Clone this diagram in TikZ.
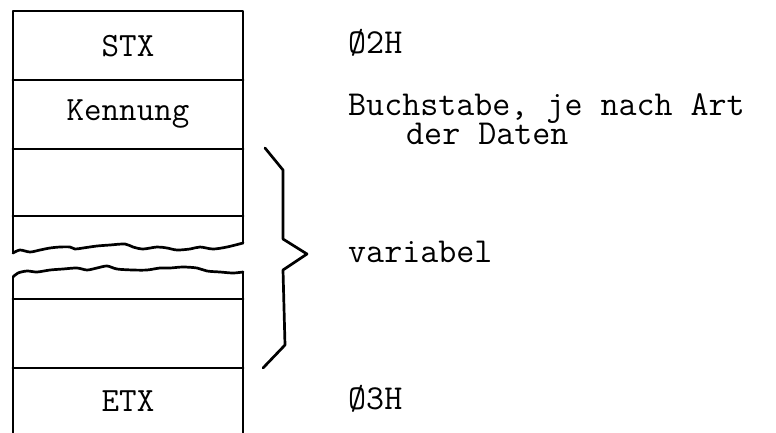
\documentclass[tikz,border=0pt]{standalone}
\usepackage{fontspec}
\begin{document}
\begin{tikzpicture}[x=1pt,y=-1pt,
  edge/.style={line width=2.7pt,line join=round,line cap=round},
  lbl/.style={font=\ttfamily\fontsize{34}{36}\selectfont,inner sep=0pt,anchor=base},
  note/.style={font=\ttfamily\fontsize{35}{36}\selectfont,inner sep=0pt,anchor=base west}]
\useasboundingbox (0,0) rectangle (776,432);
% upper part
\draw[edge] (13,253) -- (13,11) -- (243,11) -- (243,243);
\draw[edge] (13,80) -- (243,80);
\draw[edge] (13,149) -- (243,149);
\draw[edge] (13,216) -- (243,216);
\draw[edge,smooth] plot coordinates {(13,253) (20,250) (30,252) (40,250) (50,248) (60,247) (70,247) (75,249) (83,248) (97,246) (110,245) (125,244) (133,247) (143,249) (157,247) (167,248) (177,250) (190,249) (200,247) (213,249) (227,247) (243,243)};
% lower part
\draw[edge] (13,433) -- (13,277);
\draw[edge] (243,433) -- (243,272);
\draw[edge,smooth] plot coordinates {(13,277) (18,273) (27,271) (37,272) (50,270) (63,269) (77,268) (87,270) (97,268) (107,266) (117,269) (133,270) (147,270) (160,268) (170,268) (183,267) (197,268) (207,271) (220,272) (233,273) (243,272)};
\draw[edge] (13,299) -- (243,299);
\draw[edge] (13,368) -- (243,368);
% brace
\draw[edge] (265,148) -- (283,170) -- (283,239) -- (307,254) -- (283,270) -- (285,345) -- (263,368);
% labels in boxes
\node[lbl] (stx) at (128,56) {STX};
\node[lbl] (ken) at (128,120) {Kennung};
\node[lbl] (etx) at (128,411) {ETX};
% notes
\node[note] (n1) at (348,53) {Ø2H};
\node[note,text depth=3pt] (n2) at (348,115) {Buchstabe, je nach Art};
\node[note,text height=20pt] (n3) at (406,144) {der Daten};
\node[note] (n4) at (348,262) {variabel};
\node[note] (n5) at (348,409) {Ø3H};
\end{tikzpicture}
\end{document}
